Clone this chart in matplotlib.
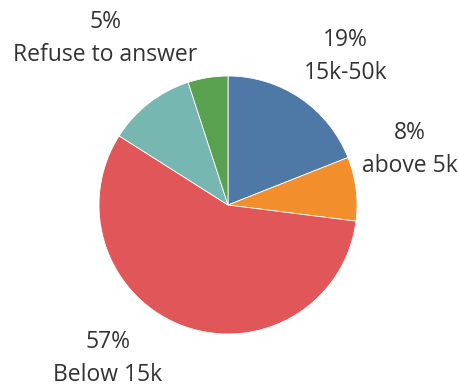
import matplotlib
matplotlib.use('agg')
import matplotlib.pyplot as plt

categories = ['15k-50k', 'above 5k', 'Below 15k', '', 'Refuse to answer']
shares = [19, 8, 57, 11, 5]
colors = ['#4e79a7', '#f28e2b', '#e15759', '#76b7b2', '#59a14f']

# label centres in axis units (pie radius = 1), None = no label
label_pos = [(0.91, 1.15), (1.41, 0.43), (-0.93, -1.19), None, (-0.95, 1.29)]


def main():
    W, H = 459, 387
    fig = plt.figure(figsize=(W / 100, H / 100), dpi=100)
    r, cx, cy = 129, 228, 182
    ax = fig.add_axes([(cx - r) / W, (cy - r) / H, 2 * r / W, 2 * r / H])
    ax.pie(shares, colors=colors, startangle=90, counterclock=False,
           radius=1, wedgeprops=dict(edgecolor='white', linewidth=0.6))
    ax.set_xlim(-1, 1)
    ax.set_ylim(-1, 1)
    ax.axis('off')
    for name, val, pos in zip(categories, shares, label_pos):
        if pos is None:
            continue
        ax.text(pos[0], pos[1], '{}%\n{}'.format(val, name), ha='center',
                va='center', fontsize=16.5, color='#333333',
                family='Open Sans', linespacing=1.47, clip_on=False)
    fig.savefig('out.png', dpi=100)


if __name__ == '__main__':
    main()
